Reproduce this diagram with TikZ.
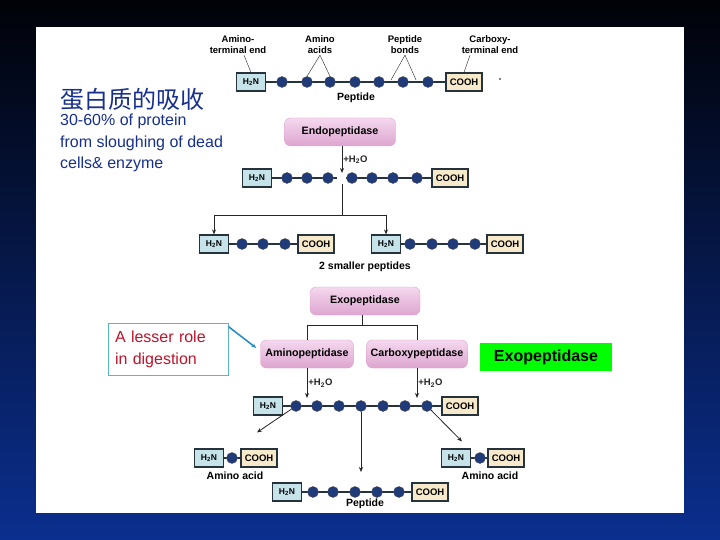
\documentclass[tikz,border=0pt]{standalone}
\usepackage{fontspec}
\setmainfont{Liberation Sans}
\newfontfamily\cjk{Noto Sans CJK SC}
\usetikzlibrary{arrows.meta}
\definecolor{nightsky}{HTML}{010207}
\definecolor{midnight}{HTML}{081F68}
\definecolor{slidebg}{HTML}{0B2F8F}
\definecolor{slidetext}{HTML}{17308E}
\definecolor{residue}{HTML}{1F3B7A}
\definecolor{aminofill}{HTML}{C6E3EA}
\definecolor{carboxyfill}{HTML}{F7EACB}
\definecolor{boxedge}{HTML}{26323C}
\definecolor{enzlight}{HTML}{F5D8EE}
\definecolor{enzdark}{HTML}{DDA5D0}
\definecolor{roleedge}{HTML}{5BB5CC}
\definecolor{rolered}{HTML}{C0142C}
\definecolor{tagreen}{HTML}{00FF00}
\definecolor{pointer}{HTML}{2B8FC4}

\begin{document}
\begin{tikzpicture}[x=1pt,y=-1pt,>={Stealth[length=5pt,width=4pt]},
  nterm/.style={draw=boxedge,line width=1.1pt,fill=aminofill,minimum width=29pt,
    minimum height=18pt,inner sep=0pt,font=\bfseries\fontsize{8.5}{10}\selectfont},
  cterm/.style={nterm,fill=carboxyfill,minimum width=36pt,font=\bfseries\fontsize{9.5}{10}\selectfont},
  res/.style={circle,fill=residue,draw=black!70,line width=0.4pt,minimum size=11pt,inner sep=0pt},
  bond/.style={boxedge,line width=1.2pt},
  enzyme/.style={rounded corners=6pt,top color=enzlight,bottom color=enzdark,draw=enzdark,
    minimum height=28pt,inner sep=0pt,font=\bfseries\fontsize{10.7}{12}\selectfont},
  lbl/.style={align=center,inner sep=1pt,font=\bfseries\fontsize{9.5}{11}\selectfont},
  caption/.style={lbl,font=\bfseries\fontsize{10.5}{12}\selectfont},
  react/.style={->,black!85,line width=0.8pt}]
  \useasboundingbox (0,0) rectangle (720,540);
  % slide background and white panel
  \shade[top color=nightsky,middle color=midnight,bottom color=slidebg] (0,0) rectangle (720,540);
  \fill[white] (36,27) rectangle (684,513);

  % slide text on the left
  \node[anchor=west,inner sep=0pt,text=slidetext,font=\cjk\fontsize{24}{26}\selectfont] (title) at (60,99) {蛋白质的吸收};
  \node[anchor=north west,align=left,inner sep=0pt,text=slidetext,font=\fontsize{16}{21.5}\selectfont] (source) at (60,114)
    {30-60\% of protein\\from sloughing of dead\\cells\& enzyme};

  % intact peptide
  \node[nterm] (n1) at (251,82) {H\textsubscript{2}N};
  \node[cterm] (c1) at (464,82) {COOH};
  \draw[bond] (n1) -- (c1);
  \foreach \i/\x in {1/282,2/307,3/330,4/355,5/379,6/403,7/428}
    \node[res] (p1-\i) at (\x,82) {};
  \node[caption] at (356,98) {Peptide};
  \fill (500,79) circle (0.8pt);
  \node[lbl] (nt) at (238,45) {Amino-\\terminal end};
  \node[lbl] (aa) at (320,45) {Amino\\acids};
  \node[lbl] (pb) at (405,45) {Peptide\\bonds};
  \node[lbl] (ct) at (490,45) {Carboxy-\\terminal end};
  \coordinate (bond1) at (391,80);
  \coordinate (bond2) at (416,80);
  \draw[black!85] ([xshift=6pt]nt.south) -- (n1.north);
  \draw[black!85] (aa.south) -- (p1-2.north);
  \draw[black!85] (aa.south) -- (p1-3.north);
  \draw[black!85] (pb.south) -- (bond1);
  \draw[black!85] (pb.south) -- (bond2);
  \draw[black!85] ([xshift=-20pt]ct.south) -- (c1.north);

  % endopeptidase cuts inside the chain
  \node[enzyme,minimum width=111pt] (endo) at (340,132) {Endopeptidase};
  \node[nterm] (n2) at (257,178) {H\textsubscript{2}N};
  \node[cterm] (c2) at (450,178) {COOH};
  \coordinate (cut) at (342,178);
  \draw[bond] (n2) -- ([xshift=-5pt]cut);
  \draw[bond] ([xshift=4pt]cut) -- (c2);
  \foreach \i/\x in {1/287,2/307,3/328,4/352,5/372,6/393,7/417}
    \node[res] (p2-\i) at (\x,178) {};
  \draw[react] (endo.south -| cut) -- ([yshift=5pt]cut) node[midway,right,lbl] {+H\textsubscript{2}O};
  \coordinate (split) at (342,215);
  \draw[react,-] ([yshift=-6pt]cut) -- (split);

  % two smaller peptides
  \node[nterm] (n3a) at (214,244) {H\textsubscript{2}N};
  \node[cterm] (c3a) at (316,244) {COOH};
  \draw[bond] (n3a) -- (c3a);
  \foreach \i/\x in {1/242,2/263,3/285}
    \node[res] (p3a-\i) at (\x,244) {};
  \node[nterm] (n3b) at (386,244) {H\textsubscript{2}N};
  \node[cterm] (c3b) at (505,244) {COOH};
  \draw[bond] (n3b) -- (c3b);
  \foreach \i/\x in {1/410,2/432,3/453,4/475}
    \node[res] (p3b-\i) at (\x,244) {};
  \draw[react] (split) -| (n3a);
  \draw[react] (split) -| (n3b);
  \node[caption] at (365,267) {2 smaller peptides};

  % exopeptidases work from the two ends
  \node[enzyme,minimum width=110pt] (exo) at (365,301) {Exopeptidase};
  \node[enzyme,minimum width=93pt] (amp) at (307,354) {Aminopeptidase};
  \node[enzyme,minimum width=101pt] (cpp) at (417,354) {Carboxypeptidase};
  \coordinate (fork) at (362,325);
  \draw[react,-] (exo.south -| fork) -- (fork);
  \draw[react,-] (fork) -| (amp);
  \draw[react,-] (fork) -| (cpp);

  \node[draw=roleedge,line width=0.8pt,fill=white,align=left,text=rolered,text width=106pt,inner xsep=7pt,
    minimum height=52pt,font=\fontsize{16}{22}\selectfont] (role) at (168,349) {A lesser role\\in digestion};
  \draw[->,pointer,line width=1.6pt] ([yshift=-4pt]role.north east) -- ([xshift=-4pt,yshift=6pt]amp.west);
  \node[fill=tagreen,minimum width=132pt,minimum height=28pt,inner sep=0pt,
    font=\bfseries\fontsize{16}{18}\selectfont] (tag) at (546,357) {Exopeptidase};

  % peptide attacked at both ends
  \node[nterm] (n4) at (268,406) {H\textsubscript{2}N};
  \node[cterm] (c4) at (460,406) {COOH};
  \draw[bond] (n4) -- (c4);
  \foreach \i/\x in {1/296,2/317,3/339,4/361,5/383,6/405,7/427}
    \node[res] (p4-\i) at (\x,406) {};
  \coordinate (nbond) at (307,406);
  \coordinate (cbond) at (417,406);
  \draw[react] (amp) -- ([yshift=8pt]nbond) node[midway,right,lbl] {+H\textsubscript{2}O};
  \draw[react] (cpp) -- ([yshift=8pt]cbond) node[midway,right,lbl] {+H\textsubscript{2}O};

  % products
  \node[nterm] (n5a) at (209,458) {H\textsubscript{2}N};
  \node[cterm] (c5a) at (259,458) {COOH};
  \draw[bond] (n5a) -- (c5a);
  \node[res] (p5a) at (232,458) {};
  \node[caption] at (235,476) {Amino acid};
  \node[nterm] (n5b) at (456,458) {H\textsubscript{2}N};
  \node[cterm] (c5b) at (506,458) {COOH};
  \draw[bond] (n5b) -- (c5b);
  \node[res] (p5b) at (480,458) {};
  \node[caption] at (490,476) {Amino acid};
  \node[nterm] (n6) at (287,492) {H\textsubscript{2}N};
  \node[cterm] (c6) at (430,492) {COOH};
  \draw[bond] (n6) -- (c6);
  \foreach \i/\x in {1/313,2/333,3/355,4/377,5/399}
    \node[res] (p6-\i) at (\x,492) {};
  \node[caption] at (365,504) {Peptide};
  \coordinate (drop) at (361,472);
  \draw[react] (p4-1) -- ([xshift=-2pt,yshift=16pt]c5a.north);
  \draw[react,line width=0.5pt] (p4-4) -- (drop);
  \draw[react] (p4-7) -- ([xshift=6pt,yshift=7pt]n5b.north);
\end{tikzpicture}
\end{document}
